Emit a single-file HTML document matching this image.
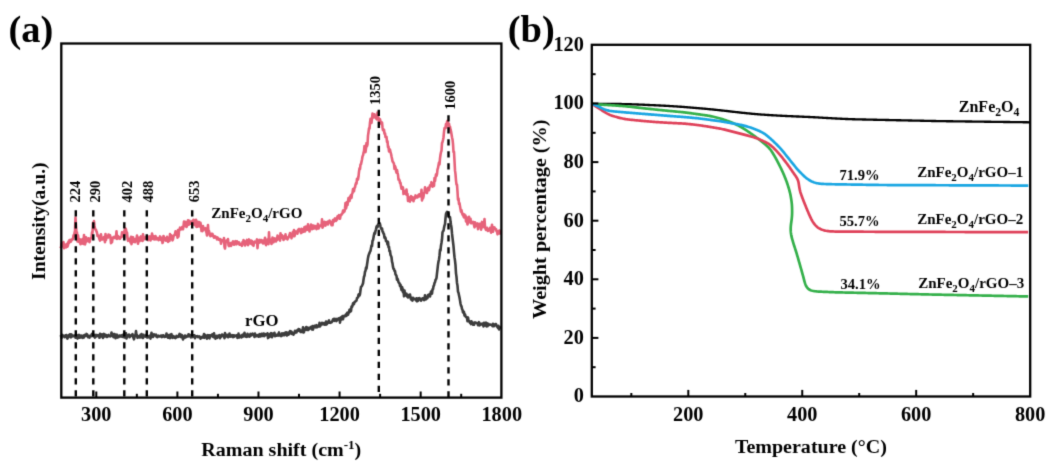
<!DOCTYPE html>
<html><head><meta charset="utf-8"><style>
html,body{margin:0;padding:0;background:#fff;width:1051px;height:468px;overflow:hidden;}
svg{display:block;will-change:transform;}
text{fill:#000;}
</style></head><body>
<svg width="1051" height="468" viewBox="0 0 1051 468">
<defs><filter id="soft" x="0" y="0" width="1051" height="468" filterUnits="userSpaceOnUse" color-interpolation-filters="sRGB"><feConvolveMatrix order="3" kernelMatrix="0.0169 0.0962 0.0169 0.0962 0.5476 0.0962 0.0169 0.0962 0.0169" edgeMode="duplicate"/></filter></defs>
<g filter="url(#soft)">
<rect width="1051" height="468" fill="#fff"/>
<text x="8.5" y="41.5" font-family="'Liberation Serif', serif" font-weight="bold" font-size="38.5">(a)</text>
<text x="507.8" y="41.5" font-family="'Liberation Serif', serif" font-weight="bold" font-size="38.5">(b)</text>
<path d="M60.50 335.01L61.00 335.75L61.50 338.08L62.00 334.81L62.50 336.30L63.00 335.32L63.50 336.15L64.00 336.06L64.50 337.12L65.00 336.61L65.50 335.30L66.00 335.17L66.50 335.02L67.00 337.95L67.50 338.57L68.00 337.12L68.50 337.17L69.00 335.18L69.50 336.35L70.00 334.31L70.50 335.68L71.00 337.36L71.50 334.42L72.00 335.83L72.50 335.43L73.00 336.31L73.50 336.09L74.00 335.84L74.50 335.45L75.00 335.66L75.50 337.77L76.00 334.81L76.50 334.75L77.00 336.15L77.50 338.60L78.00 336.93L78.50 335.68L79.00 334.78L79.50 337.70L80.00 335.42L80.50 337.48L81.00 336.98L81.50 335.60L82.00 337.52L82.50 337.21L83.00 337.78L83.50 335.45L84.00 337.51L84.50 335.59L85.00 334.79L85.50 335.41L86.00 335.89L86.50 333.95L87.00 334.54L87.50 335.03L88.00 337.28L88.50 337.22L89.00 336.77L89.50 337.66L90.00 335.83L90.50 336.40L91.00 336.20L91.50 334.94L92.00 333.92L92.50 335.93L93.00 335.54L93.50 334.38L94.00 336.57L94.50 335.39L95.00 337.59L95.50 335.78L96.00 334.96L96.50 336.32L97.00 335.73L97.50 335.13L98.00 335.27L98.50 336.25L99.00 336.21L99.50 337.79L100.00 333.84L100.50 336.30L101.00 335.42L101.50 336.35L102.00 334.29L102.50 335.73L103.00 337.95L103.50 336.04L104.00 333.91L104.50 335.15L105.00 336.47L105.50 334.77L106.00 334.90L106.50 335.35L107.00 337.00L107.50 335.85L108.00 335.30L108.50 334.96L109.00 336.32L109.50 336.29L110.00 336.08L110.50 336.31L111.00 334.81L111.50 332.59L112.00 335.82L112.50 333.65L113.00 336.04L113.50 337.10L114.00 336.29L114.50 334.08L115.00 335.96L115.50 338.26L116.00 335.14L116.50 335.90L117.00 334.63L117.50 337.58L118.00 336.19L118.50 337.20L119.00 335.76L119.50 336.12L120.00 335.44L120.50 336.43L121.00 335.93L121.50 336.55L122.00 335.13L122.50 334.97L123.00 337.05L123.50 335.79L124.00 334.01L124.50 337.46L125.00 337.07L125.50 336.57L126.00 333.39L126.50 338.46L127.00 336.20L127.50 335.77L128.00 335.73L128.50 334.93L129.00 334.54L129.50 337.22L130.00 336.82L130.50 335.66L131.00 335.78L131.50 335.35L132.00 335.24L132.50 334.10L133.00 336.70L133.50 337.87L134.00 339.30L134.50 337.25L135.00 335.31L135.50 335.44L136.00 331.07L136.50 335.24L137.00 335.14L137.50 337.84L138.00 335.92L138.50 336.70L139.00 336.53L139.50 336.16L140.00 337.50L140.50 334.75L141.00 336.41L141.50 334.09L142.00 337.47L142.50 336.69L143.00 337.95L143.50 334.73L144.00 336.07L144.50 335.89L145.00 336.49L145.50 336.06L146.00 336.72L146.50 334.51L147.00 337.39L147.50 337.53L148.00 336.68L148.50 336.26L149.00 336.04L149.50 337.20L150.00 335.87L150.50 338.60L151.00 335.74L151.50 332.70L152.00 335.78L152.50 336.22L153.00 336.87L153.50 336.19L154.00 334.34L154.50 334.83L155.00 335.10L155.50 335.44L156.00 334.70L156.50 336.82L157.00 336.16L157.50 337.02L158.00 335.78L158.50 335.65L159.00 336.05L159.50 336.53L160.00 336.46L160.50 336.42L161.00 335.45L161.50 335.43L162.00 337.06L162.50 336.37L163.00 335.30L163.50 335.27L164.00 336.55L164.50 337.02L165.00 336.86L165.50 336.60L166.00 336.62L166.50 333.51L167.00 336.65L167.50 335.04L168.00 337.69L168.50 335.86L169.00 335.10L169.50 335.56L170.00 338.18L170.50 334.64L171.00 335.46L171.50 334.20L172.00 336.49L172.50 337.84L173.00 337.25L173.50 336.19L174.00 336.72L174.50 337.72L175.00 337.55L175.50 338.11L176.00 337.60L176.50 335.88L177.00 336.35L177.50 336.74L178.00 336.93L178.50 336.82L179.00 334.97L179.50 333.95L180.00 336.33L180.50 334.52L181.00 337.13L181.50 336.48L182.00 335.21L182.50 336.12L183.00 339.47L183.50 336.66L184.00 338.00L184.50 337.64L185.00 335.59L185.50 337.43L186.00 336.71L186.50 336.82L187.00 336.23L187.50 335.59L188.00 336.39L188.50 334.22L189.00 335.14L189.50 336.26L190.00 334.95L190.50 335.29L191.00 337.35L191.50 336.46L192.00 337.13L192.50 335.71L193.00 335.20L193.50 335.34L194.00 336.74L194.50 335.23L195.00 338.24L195.50 336.48L196.00 336.29L196.50 336.50L197.00 336.29L197.50 336.01L198.00 337.21L198.50 337.06L199.00 336.98L199.50 336.45L200.00 336.89L200.50 338.71L201.00 337.77L201.50 337.36L202.00 337.17L202.50 336.57L203.00 337.60L203.50 336.46L204.00 334.03L204.50 337.83L205.00 336.43L205.50 335.18L206.00 335.37L206.50 336.00L207.00 338.70L207.50 337.06L208.00 335.14L208.50 336.53L209.00 335.27L209.50 338.40L210.00 336.33L210.50 335.34L211.00 336.09L211.50 335.51L212.00 334.53L212.50 334.26L213.00 336.80L213.50 337.05L214.00 333.22L214.50 337.56L215.00 335.82L215.50 338.71L216.00 336.97L216.50 335.94L217.00 337.99L217.50 337.34L218.00 335.80L218.50 336.37L219.00 335.51L219.50 335.09L220.00 338.22L220.50 335.74L221.00 335.40L221.50 336.60L222.00 334.53L222.50 334.70L223.00 335.43L223.50 335.77L224.00 336.22L224.50 338.16L225.00 333.09L225.50 334.57L226.00 336.31L226.50 335.05L227.00 336.36L227.50 334.93L228.00 337.30L228.50 336.46L229.00 336.62L229.50 333.57L230.00 336.43L230.50 336.02L231.00 336.59L231.50 335.76L232.00 335.13L232.50 336.19L233.00 337.20L233.50 335.36L234.00 336.85L234.50 335.60L235.00 335.65L235.50 336.11L236.00 335.69L236.50 335.33L237.00 335.25L237.50 337.90L238.00 337.14L238.50 333.59L239.00 337.59L239.50 336.22L240.00 335.71L240.50 336.83L241.00 335.88L241.50 337.41L242.00 335.14L242.50 334.68L243.00 336.60L243.50 335.52L244.00 335.11L244.50 332.84L245.00 335.22L245.50 336.64L246.00 336.34L246.50 336.23L247.00 336.85L247.50 333.83L248.00 335.98L248.50 334.90L249.00 335.21L249.50 336.76L250.00 335.75L250.50 333.91L251.00 335.57L251.50 335.04L252.00 334.15L252.50 333.55L253.00 334.94L253.50 334.28L254.00 334.68L254.50 336.95L255.00 333.50L255.50 335.68L256.00 335.25L256.50 336.12L257.00 336.06L257.50 335.11L258.00 336.17L258.50 336.72L259.00 334.90L259.50 334.24L260.00 336.39L260.50 336.42L261.00 334.99L261.50 333.72L262.00 335.89L262.50 335.58L263.00 335.91L263.50 333.51L264.00 334.47L264.50 336.07L265.00 333.91L265.50 335.00L266.00 334.29L266.50 334.69L267.00 335.28L267.50 333.25L268.00 338.07L268.50 335.25L269.00 334.80L269.50 337.06L270.00 333.96L270.50 333.81L271.00 333.13L271.50 335.14L272.00 337.18L272.50 335.02L273.00 333.54L273.50 335.33L274.00 334.09L274.50 332.83L275.00 336.20L275.50 334.48L276.00 334.95L276.50 335.70L277.00 335.45L277.50 334.54L278.00 335.54L278.50 333.48L279.00 332.45L279.50 335.54L280.00 335.15L280.50 335.26L281.00 336.05L281.50 334.34L282.00 333.37L282.50 335.49L283.00 334.37L283.50 333.33L284.00 333.95L284.50 335.23L285.00 332.85L285.50 333.90L286.00 332.32L286.50 334.10L287.00 335.50L287.50 332.84L288.00 332.51L288.50 334.71L289.00 333.41L289.50 333.90L290.00 331.14L290.50 333.21L291.00 331.40L291.50 331.77L292.00 333.84L292.50 332.74L293.00 332.88L293.50 334.69L294.00 332.70L294.50 333.34L295.00 330.77L295.50 331.43L296.00 332.47L296.50 332.46L297.00 330.50L297.50 330.16L298.00 330.83L298.50 329.07L299.00 329.59L299.50 329.35L300.00 331.53L300.50 331.31L301.00 332.09L301.50 332.00L302.00 330.28L302.50 330.76L303.00 327.39L303.50 332.55L304.00 332.08L304.50 329.76L305.00 328.61L305.50 329.72L306.00 327.24L306.50 327.09L307.00 329.93L307.50 329.55L308.00 327.77L308.50 329.95L309.00 328.21L309.50 328.79L310.00 328.01L310.50 327.21L311.00 327.71L311.50 326.81L312.00 329.56L312.50 325.97L313.00 329.67L313.50 326.30L314.00 327.65L314.50 325.73L315.00 326.14L315.50 326.48L316.00 327.44L316.50 325.15L317.00 327.02L317.50 327.13L318.00 325.87L318.50 326.11L319.00 326.34L319.50 322.90L320.00 326.37L320.50 325.50L321.00 324.58L321.50 324.29L322.00 322.85L322.50 323.45L323.00 324.31L323.50 323.20L324.00 323.07L324.50 323.38L325.00 324.72L325.50 324.08L326.00 321.55L326.50 324.57L327.00 323.93L327.50 323.09L328.00 322.83L328.50 321.23L329.00 320.43L329.50 322.69L330.00 322.18L330.50 322.79L331.00 322.44L331.50 322.37L332.00 321.86L332.50 320.64L333.00 319.40L333.50 320.49L334.00 318.86L334.50 320.82L335.00 319.65L335.50 319.16L336.00 318.88L336.50 321.09L337.00 319.89L337.50 319.01L338.00 319.60L338.50 318.62L339.00 319.18L339.50 318.06L340.00 322.72L340.50 318.49L341.00 317.41L341.50 318.18L342.00 319.36L342.50 316.02L343.00 319.23L343.50 316.80L344.00 316.01L344.50 315.77L345.00 316.30L345.50 316.28L346.00 314.36L346.50 315.87L347.00 313.32L347.50 312.55L348.00 314.82L348.50 313.16L349.00 312.68L349.50 309.70L350.00 311.65L350.50 309.09L351.00 311.12L351.50 306.65L352.00 307.04L352.50 305.68L353.00 303.44L353.50 304.38L354.00 303.98L354.50 302.00L355.00 301.90L355.50 301.07L356.00 301.08L356.50 300.49L357.00 298.23L357.50 297.73L358.00 297.45L358.50 294.73L359.00 294.05L359.50 295.57L360.00 294.09L360.50 289.97L361.00 286.90L361.50 286.44L362.00 285.88L362.50 284.63L363.00 283.49L363.50 279.71L364.00 276.67L364.50 275.62L365.00 271.75L365.50 270.93L366.00 267.59L366.50 268.71L367.00 264.75L367.50 261.51L368.00 257.92L368.50 255.62L369.00 254.11L369.50 253.09L370.00 251.60L370.50 250.89L371.00 248.11L371.50 245.50L372.00 246.08L372.50 240.86L373.00 240.22L373.50 237.50L374.00 234.76L374.50 232.79L375.00 233.56L375.50 230.84L376.00 229.37L376.50 226.88L377.00 225.97L377.50 227.11L378.00 225.36L378.50 224.16L379.00 224.17L379.50 222.89L380.00 224.06L380.50 226.55L381.00 228.26L381.50 229.08L382.00 228.35L382.50 231.65L383.00 231.95L383.50 233.61L384.00 234.17L384.50 237.85L385.00 237.07L385.50 238.00L386.00 241.14L386.50 241.48L387.00 241.28L387.50 244.54L388.00 241.88L388.50 247.24L389.00 246.85L389.50 251.31L390.00 250.86L390.50 254.96L391.00 255.86L391.50 257.26L392.00 261.59L392.50 263.37L393.00 266.96L393.50 268.81L394.00 268.99L394.50 270.99L395.00 270.97L395.50 274.39L396.00 275.05L396.50 275.85L397.00 279.75L397.50 278.68L398.00 280.17L398.50 282.28L399.00 282.92L399.50 283.30L400.00 285.91L400.50 284.77L401.00 287.78L401.50 290.08L402.00 286.91L402.50 288.52L403.00 292.25L403.50 289.68L404.00 296.29L404.50 290.51L405.00 295.28L405.50 295.41L406.00 295.63L406.50 293.68L407.00 296.51L407.50 295.29L408.00 297.47L408.50 295.10L409.00 295.57L409.50 296.69L410.00 294.49L410.50 297.93L411.00 299.32L411.50 297.74L412.00 299.95L412.50 300.55L413.00 297.80L413.50 298.95L414.00 298.50L414.50 299.01L415.00 299.25L415.50 298.99L416.00 300.33L416.50 298.35L417.00 301.32L417.50 300.43L418.00 300.93L418.50 298.22L419.00 298.31L419.50 298.04L420.00 299.48L420.50 299.58L421.00 300.68L421.50 299.42L422.00 299.15L422.50 298.23L423.00 298.28L423.50 299.24L424.00 300.06L424.50 298.46L425.00 295.32L425.50 297.81L426.00 299.31L426.50 297.47L427.00 297.10L427.50 298.02L428.00 295.09L428.50 296.14L429.00 295.86L429.50 294.21L430.00 296.46L430.50 293.71L431.00 291.62L431.50 292.58L432.00 293.57L432.50 289.37L433.00 289.34L433.50 286.11L434.00 285.60L434.50 283.03L435.00 282.35L435.50 279.96L436.00 279.44L436.50 277.92L437.00 273.33L437.50 269.14L438.00 264.63L438.50 261.55L439.00 259.51L439.50 255.64L440.00 249.88L440.50 250.64L441.00 245.42L441.50 242.67L442.00 239.29L442.50 232.44L443.00 231.14L443.50 230.88L444.00 227.87L444.50 225.46L445.00 224.26L445.50 218.38L446.00 214.01L446.50 212.65L447.00 211.85L447.50 213.10L448.00 212.67L448.50 213.50L449.00 216.49L449.50 217.65L450.00 217.11L450.50 221.55L451.00 224.81L451.50 227.61L452.00 233.40L452.50 237.93L453.00 241.97L453.50 246.20L454.00 252.18L454.50 257.17L455.00 260.59L455.50 265.10L456.00 273.33L456.50 276.90L457.00 282.96L457.50 285.62L458.00 291.69L458.50 292.71L459.00 295.14L459.50 297.50L460.00 300.38L460.50 303.46L461.00 305.71L461.50 306.18L462.00 308.95L462.50 309.86L463.00 312.44L463.50 311.42L464.00 312.07L464.50 315.66L465.00 314.37L465.50 316.24L466.00 317.06L466.50 316.98L467.00 317.89L467.50 321.28L468.00 317.47L468.50 320.46L469.00 321.58L469.50 321.23L470.00 322.71L470.50 322.67L471.00 324.08L471.50 321.35L472.00 322.66L472.50 322.39L473.00 324.67L473.50 324.54L474.00 324.71L474.50 323.06L475.00 322.30L475.50 323.00L476.00 323.04L476.50 322.92L477.00 323.22L477.50 323.37L478.00 325.19L478.50 323.76L479.00 322.14L479.50 325.41L480.00 323.71L480.50 324.68L481.00 323.76L481.50 324.08L482.00 324.36L482.50 323.62L483.00 323.83L483.50 326.38L484.00 322.69L484.50 325.53L485.00 324.09L485.50 323.58L486.00 322.70L486.50 326.36L487.00 323.39L487.50 326.28L488.00 324.76L488.50 323.95L489.00 325.02L489.50 324.80L490.00 324.75L490.50 324.60L491.00 324.87L491.50 325.02L492.00 325.35L492.50 326.17L493.00 323.74L493.50 324.70L494.00 326.24L494.50 324.53L495.00 325.00L495.50 324.16L496.00 324.12L496.50 325.50L497.00 326.59L497.50 325.79L498.00 327.93L498.50 325.83L499.00 329.39L499.50 326.93L500.00 327.62L500.50 326.74" fill="none" stroke="#3C3C3C" stroke-width="2.6" stroke-linejoin="round"/>
<path d="M60.50 248.40L61.00 247.39L61.50 244.12L62.00 244.10L62.50 246.27L63.00 244.75L63.50 242.12L64.00 248.17L64.50 245.37L65.00 244.65L65.50 246.42L66.00 247.28L66.50 246.74L67.00 243.82L67.50 246.64L68.00 245.09L68.50 241.55L69.00 243.08L69.50 240.02L70.00 241.90L70.50 240.07L71.00 241.59L71.50 239.50L72.00 239.84L72.50 238.88L73.00 239.05L73.50 235.41L74.00 236.46L74.50 233.07L75.00 230.72L75.50 217.47L76.00 225.90L76.50 232.80L77.00 232.35L77.50 241.53L78.00 235.27L78.50 238.91L79.00 241.96L79.50 239.33L80.00 240.81L80.50 244.26L81.00 239.66L81.50 240.61L82.00 241.97L82.50 243.36L83.00 238.91L83.50 243.98L84.00 234.97L84.50 239.90L85.00 244.37L85.50 242.41L86.00 237.26L86.50 241.43L87.00 241.00L87.50 240.42L88.00 240.99L88.50 238.39L89.00 241.05L89.50 242.06L90.00 240.32L90.50 238.78L91.00 237.88L91.50 237.39L92.00 232.39L92.50 232.81L93.00 222.80L93.50 223.10L94.00 221.06L94.50 225.97L95.00 228.53L95.50 229.57L96.00 229.92L96.50 231.57L97.00 232.90L97.50 235.97L98.00 235.43L98.50 235.71L99.00 237.56L99.50 239.30L100.00 240.53L100.50 238.78L101.00 234.40L101.50 239.38L102.00 239.53L102.50 237.97L103.00 237.55L103.50 239.12L104.00 237.15L104.50 239.48L105.00 242.26L105.50 233.93L106.00 239.98L106.50 236.39L107.00 237.49L107.50 237.30L108.00 237.48L108.50 234.51L109.00 236.90L109.50 236.95L110.00 235.19L110.50 237.29L111.00 243.09L111.50 237.89L112.00 242.25L112.50 238.53L113.00 238.05L113.50 236.98L114.00 237.97L114.50 236.89L115.00 237.58L115.50 238.08L116.00 236.92L116.50 231.38L117.00 238.86L117.50 238.27L118.00 236.00L118.50 238.31L119.00 237.02L119.50 238.09L120.00 238.78L120.50 237.60L121.00 237.35L121.50 236.41L122.00 232.30L122.50 235.83L123.00 236.01L123.50 233.34L124.00 237.65L124.50 230.19L125.00 230.60L125.50 228.47L126.00 229.30L126.50 233.51L127.00 232.44L127.50 238.34L128.00 240.85L128.50 239.06L129.00 238.92L129.50 239.77L130.00 239.30L130.50 242.47L131.00 236.81L131.50 244.08L132.00 239.90L132.50 240.03L133.00 237.16L133.50 241.82L134.00 240.40L134.50 240.66L135.00 242.19L135.50 238.69L136.00 238.69L136.50 239.32L137.00 235.52L137.50 240.94L138.00 243.77L138.50 237.79L139.00 237.60L139.50 241.29L140.00 238.27L140.50 238.61L141.00 236.40L141.50 240.37L142.00 237.17L142.50 241.06L143.00 234.21L143.50 237.60L144.00 239.33L144.50 237.70L145.00 238.70L145.50 237.35L146.00 238.27L146.50 236.58L147.00 237.71L147.50 236.74L148.00 240.19L148.50 238.25L149.00 236.70L149.50 238.39L150.00 236.45L150.50 240.52L151.00 236.93L151.50 238.92L152.00 233.64L152.50 235.58L153.00 238.95L153.50 239.24L154.00 236.45L154.50 239.35L155.00 237.71L155.50 235.98L156.00 239.38L156.50 238.71L157.00 238.06L157.50 238.12L158.00 239.34L158.50 240.19L159.00 239.59L159.50 238.02L160.00 236.45L160.50 237.01L161.00 240.12L161.50 237.95L162.00 238.29L162.50 243.01L163.00 241.71L163.50 235.93L164.00 237.87L164.50 239.80L165.00 239.33L165.50 238.36L166.00 240.63L166.50 238.87L167.00 236.78L167.50 238.26L168.00 241.84L168.50 239.38L169.00 238.60L169.50 240.98L170.00 234.17L170.50 237.12L171.00 237.02L171.50 235.42L172.00 239.14L172.50 240.38L173.00 239.15L173.50 236.55L174.00 235.28L174.50 235.30L175.00 234.09L175.50 231.37L176.00 232.49L176.50 234.96L177.00 232.97L177.50 237.72L178.00 230.03L178.50 236.69L179.00 231.06L179.50 229.98L180.00 227.65L180.50 228.14L181.00 229.34L181.50 228.33L182.00 227.22L182.50 227.71L183.00 229.23L183.50 226.12L184.00 221.51L184.50 225.94L185.00 223.03L185.50 221.89L186.00 223.48L186.50 227.00L187.00 225.77L187.50 222.78L188.00 220.24L188.50 223.35L189.00 224.55L189.50 220.81L190.00 222.39L190.50 223.29L191.00 223.67L191.50 222.09L192.00 221.48L192.50 220.93L193.00 222.46L193.50 219.75L194.00 224.53L194.50 222.09L195.00 222.75L195.50 225.47L196.00 219.69L196.50 226.85L197.00 225.43L197.50 221.75L198.00 226.57L198.50 225.28L199.00 222.00L199.50 226.44L200.00 226.06L200.50 222.90L201.00 226.15L201.50 231.03L202.00 226.93L202.50 231.15L203.00 226.11L203.50 228.24L204.00 229.27L204.50 228.90L205.00 228.76L205.50 228.16L206.00 231.62L206.50 232.20L207.00 235.53L207.50 229.69L208.00 225.06L208.50 232.76L209.00 230.98L209.50 233.37L210.00 235.46L210.50 236.14L211.00 235.83L211.50 233.70L212.00 235.41L212.50 233.96L213.00 236.13L213.50 235.60L214.00 237.74L214.50 236.22L215.00 237.32L215.50 236.58L216.00 237.84L216.50 237.79L217.00 239.45L217.50 237.43L218.00 239.09L218.50 238.43L219.00 239.67L219.50 239.40L220.00 240.42L220.50 239.11L221.00 243.76L221.50 240.45L222.00 240.44L222.50 240.28L223.00 241.23L223.50 241.35L224.00 238.00L224.50 246.84L225.00 248.53L225.50 243.55L226.00 241.33L226.50 240.58L227.00 241.03L227.50 240.84L228.00 239.08L228.50 245.08L229.00 246.09L229.50 243.63L230.00 243.94L230.50 243.10L231.00 246.02L231.50 245.01L232.00 242.96L232.50 242.39L233.00 241.37L233.50 241.78L234.00 244.67L234.50 244.50L235.00 241.61L235.50 241.21L236.00 241.95L236.50 244.34L237.00 241.32L237.50 243.42L238.00 243.36L238.50 243.14L239.00 242.29L239.50 244.80L240.00 243.63L240.50 244.54L241.00 244.80L241.50 244.17L242.00 245.83L242.50 242.07L243.00 243.68L243.50 240.12L244.00 240.72L244.50 243.69L245.00 245.51L245.50 242.60L246.00 241.33L246.50 241.88L247.00 239.89L247.50 244.21L248.00 245.19L248.50 241.76L249.00 239.42L249.50 240.54L250.00 243.36L250.50 242.59L251.00 240.52L251.50 244.03L252.00 241.12L252.50 244.82L253.00 242.98L253.50 245.82L254.00 242.46L254.50 241.70L255.00 242.40L255.50 242.49L256.00 241.91L256.50 240.76L257.00 239.40L257.50 248.11L258.00 242.57L258.50 241.25L259.00 242.75L259.50 239.93L260.00 240.84L260.50 240.13L261.00 242.20L261.50 240.10L262.00 241.83L262.50 241.72L263.00 243.48L263.50 240.48L264.00 243.21L264.50 241.42L265.00 237.80L265.50 242.50L266.00 245.10L266.50 243.22L267.00 239.71L267.50 239.63L268.00 240.23L268.50 244.21L269.00 232.35L269.50 241.70L270.00 239.30L270.50 240.36L271.00 241.40L271.50 243.97L272.00 240.97L272.50 237.62L273.00 239.91L273.50 242.31L274.00 239.15L274.50 238.45L275.00 238.84L275.50 241.30L276.00 241.40L276.50 238.35L277.00 239.99L277.50 235.56L278.00 237.51L278.50 239.19L279.00 237.13L279.50 237.21L280.00 240.64L280.50 233.25L281.00 237.50L281.50 237.32L282.00 235.24L282.50 238.25L283.00 237.98L283.50 239.99L284.00 237.31L284.50 236.19L285.00 238.58L285.50 234.35L286.00 238.41L286.50 237.65L287.00 237.25L287.50 239.44L288.00 237.84L288.50 237.63L289.00 236.39L289.50 234.98L290.00 233.04L290.50 235.69L291.00 234.64L291.50 238.33L292.00 234.08L292.50 233.48L293.00 231.71L293.50 236.11L294.00 229.99L294.50 236.08L295.00 234.30L295.50 231.51L296.00 232.36L296.50 232.57L297.00 231.26L297.50 233.69L298.00 229.88L298.50 229.49L299.00 229.00L299.50 230.45L300.00 230.38L300.50 231.90L301.00 233.08L301.50 228.70L302.00 231.22L302.50 232.10L303.00 229.63L303.50 231.68L304.00 229.11L304.50 227.08L305.00 231.48L305.50 230.44L306.00 226.65L306.50 228.55L307.00 227.06L307.50 229.64L308.00 224.32L308.50 228.35L309.00 227.43L309.50 231.54L310.00 226.94L310.50 227.65L311.00 224.55L311.50 224.93L312.00 229.27L312.50 227.15L313.00 225.58L313.50 227.15L314.00 228.59L314.50 225.91L315.00 227.27L315.50 226.09L316.00 228.18L316.50 229.06L317.00 226.07L317.50 225.90L318.00 223.93L318.50 228.50L319.00 227.69L319.50 225.72L320.00 226.18L320.50 225.32L321.00 225.53L321.50 225.94L322.00 219.30L322.50 227.61L323.00 226.60L323.50 225.26L324.00 224.49L324.50 221.79L325.00 223.90L325.50 225.60L326.00 222.27L326.50 223.93L327.00 222.04L327.50 221.73L328.00 224.50L328.50 222.33L329.00 222.48L329.50 220.52L330.00 221.98L330.50 221.53L331.00 223.30L331.50 225.09L332.00 222.64L332.50 225.26L333.00 220.13L333.50 220.49L334.00 221.56L334.50 219.17L335.00 218.32L335.50 220.03L336.00 220.87L336.50 220.05L337.00 219.62L337.50 216.26L338.00 216.12L338.50 218.06L339.00 215.17L339.50 217.27L340.00 218.72L340.50 215.99L341.00 214.48L341.50 214.82L342.00 213.69L342.50 213.34L343.00 210.63L343.50 212.49L344.00 210.78L344.50 211.40L345.00 208.47L345.50 202.93L346.00 208.45L346.50 206.11L347.00 202.00L347.50 205.09L348.00 201.40L348.50 197.97L349.00 198.04L349.50 201.07L350.00 196.67L350.50 198.60L351.00 195.04L351.50 197.83L352.00 193.94L352.50 193.07L353.00 189.17L353.50 189.27L354.00 191.25L354.50 187.68L355.00 187.56L355.50 184.83L356.00 182.98L356.50 183.72L357.00 178.82L357.50 179.85L358.00 179.64L358.50 176.56L359.00 171.68L359.50 168.42L360.00 169.00L360.50 164.56L361.00 164.13L361.50 161.89L362.00 159.56L362.50 156.34L363.00 155.47L363.50 152.90L364.00 151.05L364.50 145.94L365.00 147.83L365.50 152.09L366.00 148.42L366.50 142.94L367.00 146.23L367.50 144.47L368.00 135.63L368.50 132.27L369.00 128.38L369.50 128.57L370.00 122.59L370.50 118.86L371.00 118.89L371.50 122.96L372.00 118.57L372.50 113.64L373.00 115.75L373.50 117.37L374.00 117.26L374.50 114.28L375.00 116.50L375.50 115.62L376.00 118.44L376.50 117.54L377.00 119.32L377.50 112.62L378.00 117.18L378.50 117.99L379.00 121.50L379.50 121.36L380.00 119.16L380.50 121.75L381.00 123.28L381.50 124.24L382.00 122.39L382.50 127.46L383.00 130.15L383.50 130.66L384.00 129.74L384.50 133.73L385.00 133.29L385.50 136.95L386.00 137.44L386.50 136.77L387.00 141.78L387.50 141.22L388.00 147.10L388.50 146.51L389.00 151.49L389.50 149.64L390.00 149.66L390.50 152.28L391.00 153.66L391.50 156.33L392.00 158.61L392.50 161.13L393.00 162.16L393.50 162.68L394.00 163.89L394.50 168.81L395.00 166.13L395.50 167.55L396.00 170.84L396.50 172.75L397.00 169.92L397.50 172.77L398.00 174.81L398.50 179.53L399.00 179.34L399.50 180.27L400.00 183.13L400.50 182.74L401.00 186.19L401.50 188.70L402.00 187.72L402.50 187.10L403.00 187.79L403.50 194.06L404.00 191.00L404.50 192.75L405.00 190.97L405.50 192.80L406.00 194.26L406.50 189.60L407.00 194.91L407.50 193.94L408.00 200.95L408.50 198.06L409.00 197.75L409.50 197.43L410.00 201.60L410.50 196.96L411.00 196.08L411.50 199.73L412.00 197.03L412.50 196.95L413.00 197.63L413.50 201.25L414.00 198.50L414.50 198.81L415.00 197.97L415.50 195.41L416.00 197.16L416.50 196.81L417.00 197.51L417.50 197.49L418.00 195.60L418.50 194.91L419.00 196.48L419.50 194.32L420.00 196.15L420.50 195.91L421.00 195.13L421.50 189.82L422.00 200.52L422.50 193.38L423.00 198.32L423.50 196.57L424.00 193.02L424.50 192.96L425.00 187.26L425.50 190.37L426.00 191.40L426.50 191.31L427.00 193.02L427.50 189.97L428.00 187.90L428.50 187.94L429.00 190.28L429.50 187.60L430.00 185.38L430.50 185.68L431.00 184.03L431.50 182.14L432.00 185.62L432.50 186.74L433.00 184.97L433.50 183.01L434.00 185.88L434.50 177.99L435.00 181.17L435.50 177.36L436.00 174.43L436.50 176.03L437.00 174.12L437.50 169.34L438.00 167.99L438.50 165.31L439.00 162.47L439.50 164.45L440.00 158.37L440.50 154.77L441.00 152.13L441.50 150.75L442.00 143.13L442.50 141.97L443.00 140.01L443.50 137.48L444.00 132.17L444.50 128.14L445.00 127.68L445.50 128.16L446.00 123.94L446.50 127.33L447.00 121.81L447.50 120.92L448.00 122.98L448.50 123.39L449.00 123.68L449.50 127.33L450.00 126.77L450.50 129.42L451.00 131.27L451.50 134.24L452.00 137.19L452.50 139.46L453.00 143.91L453.50 151.97L454.00 151.84L454.50 160.84L455.00 170.38L455.50 174.20L456.00 180.57L456.50 184.54L457.00 184.64L457.50 191.62L458.00 199.75L458.50 198.48L459.00 203.97L459.50 203.20L460.00 206.26L460.50 209.13L461.00 211.73L461.50 210.28L462.00 213.02L462.50 214.56L463.00 213.77L463.50 216.33L464.00 217.48L464.50 214.62L465.00 216.19L465.50 215.60L466.00 221.49L466.50 217.21L467.00 221.41L467.50 224.55L468.00 221.67L468.50 220.59L469.00 216.76L469.50 220.75L470.00 222.22L470.50 218.69L471.00 223.24L471.50 221.84L472.00 223.13L472.50 222.13L473.00 221.78L473.50 222.10L474.00 224.90L474.50 227.34L475.00 222.23L475.50 223.53L476.00 224.67L476.50 225.89L477.00 223.97L477.50 223.46L478.00 229.23L478.50 224.55L479.00 224.04L479.50 224.99L480.00 223.82L480.50 225.13L481.00 229.70L481.50 226.94L482.00 221.92L482.50 223.99L483.00 227.21L483.50 226.24L484.00 223.88L484.50 219.01L485.00 226.60L485.50 228.81L486.00 229.91L486.50 229.45L487.00 227.76L487.50 230.18L488.00 230.96L488.50 230.69L489.00 229.20L489.50 229.54L490.00 227.72L490.50 228.38L491.00 232.61L491.50 230.24L492.00 224.69L492.50 229.53L493.00 231.71L493.50 228.93L494.00 227.28L494.50 227.41L495.00 228.97L495.50 228.85L496.00 229.07L496.50 231.15L497.00 231.09L497.50 234.33L498.00 231.12L498.50 230.92L499.00 233.35L499.50 230.46L500.00 233.51L500.50 231.29" fill="none" stroke="#E6627A" stroke-width="2.6" stroke-linejoin="round"/>
<line x1="75.8" y1="210.3" x2="75.8" y2="397" stroke="#000" stroke-width="2.4" stroke-dasharray="6.3 5.7"/>
<line x1="93.3" y1="210.3" x2="93.3" y2="397" stroke="#000" stroke-width="2.4" stroke-dasharray="6.3 5.7"/>
<line x1="124.3" y1="210.3" x2="124.3" y2="397" stroke="#000" stroke-width="2.4" stroke-dasharray="6.3 5.7"/>
<line x1="146.8" y1="210.3" x2="146.8" y2="397" stroke="#000" stroke-width="2.4" stroke-dasharray="6.3 5.7"/>
<line x1="192.2" y1="210.3" x2="192.2" y2="397" stroke="#000" stroke-width="2.4" stroke-dasharray="6.3 5.7"/>
<line x1="378.8" y1="109.8" x2="378.8" y2="397" stroke="#000" stroke-width="2.4" stroke-dasharray="6.3 5.7"/>
<line x1="448.5" y1="115.2" x2="448.5" y2="397" stroke="#000" stroke-width="2.4" stroke-dasharray="6.3 5.7"/>
<text transform="translate(80.32,202.40) rotate(-90)" font-family="'Liberation Serif', serif" font-weight="bold" font-size="14.5">224</text>
<text transform="translate(100.02,202.40) rotate(-90)" font-family="'Liberation Serif', serif" font-weight="bold" font-size="14.5">290</text>
<text transform="translate(131.72,202.40) rotate(-90)" font-family="'Liberation Serif', serif" font-weight="bold" font-size="14.5">402</text>
<text transform="translate(153.12,202.40) rotate(-90)" font-family="'Liberation Serif', serif" font-weight="bold" font-size="14.5">488</text>
<text transform="translate(198.72,202.20) rotate(-90)" font-family="'Liberation Serif', serif" font-weight="bold" font-size="14.5">653</text>
<text transform="translate(380.02,104.90) rotate(-90)" font-family="'Liberation Serif', serif" font-weight="bold" font-size="14.5">1350</text>
<text transform="translate(454.72,109.80) rotate(-90)" font-family="'Liberation Serif', serif" font-weight="bold" font-size="14.5">1600</text>
<text x="211.3" y="217.8" font-family="'Liberation Serif', serif" font-weight="bold" font-size="15">ZnFe<tspan font-size="11" dy="4">2</tspan><tspan dy="-4">O</tspan><tspan font-size="11" dy="4">4</tspan><tspan dy="-4">/rGO</tspan></text>
<text x="245" y="325.7" font-family="'Liberation Serif', serif" font-weight="bold" font-size="15.8" textLength="33.5" lengthAdjust="spacingAndGlyphs">rGO</text>
<rect x="61.3" y="43.5" width="440.1" height="354.1" fill="none" stroke="#000" stroke-width="2.3"/>
<line x1="96.30" y1="397" x2="96.30" y2="391.5" stroke="#000" stroke-width="2"/>
<text x="96.30" y="421.4" text-anchor="middle" font-family="'Liberation Serif', serif" font-weight="bold" font-size="20.3">300</text>
<line x1="177.39" y1="397" x2="177.39" y2="391.5" stroke="#000" stroke-width="2"/>
<text x="177.39" y="421.4" text-anchor="middle" font-family="'Liberation Serif', serif" font-weight="bold" font-size="20.3">600</text>
<line x1="258.48" y1="397" x2="258.48" y2="391.5" stroke="#000" stroke-width="2"/>
<text x="258.48" y="421.4" text-anchor="middle" font-family="'Liberation Serif', serif" font-weight="bold" font-size="20.3">900</text>
<line x1="339.57" y1="397" x2="339.57" y2="391.5" stroke="#000" stroke-width="2"/>
<text x="339.57" y="421.4" text-anchor="middle" font-family="'Liberation Serif', serif" font-weight="bold" font-size="20.3">1200</text>
<line x1="420.66" y1="397" x2="420.66" y2="391.5" stroke="#000" stroke-width="2"/>
<text x="420.66" y="421.4" text-anchor="middle" font-family="'Liberation Serif', serif" font-weight="bold" font-size="20.3">1500</text>
<text x="501.75" y="421.4" text-anchor="middle" font-family="'Liberation Serif', serif" font-weight="bold" font-size="20.3">1800</text>
<line x1="136.84" y1="397" x2="136.84" y2="393.8" stroke="#000" stroke-width="2"/>
<line x1="217.94" y1="397" x2="217.94" y2="393.8" stroke="#000" stroke-width="2"/>
<line x1="299.02" y1="397" x2="299.02" y2="393.8" stroke="#000" stroke-width="2"/>
<line x1="380.12" y1="397" x2="380.12" y2="393.8" stroke="#000" stroke-width="2"/>
<line x1="461.20" y1="397" x2="461.20" y2="393.8" stroke="#000" stroke-width="2"/>
<text x="201.3" y="456.4" font-family="'Liberation Serif', serif" font-weight="bold" font-size="19.3" textLength="160" lengthAdjust="spacingAndGlyphs">Raman shift (cm<tspan font-size="12.6" dy="-7.7">-1</tspan><tspan dy="7.7">)</tspan></text>
<text transform="translate(45.2,221.2) rotate(-90)" text-anchor="middle" font-family="'Liberation Serif', serif" font-weight="bold" font-size="19.2" textLength="117.5" lengthAdjust="spacingAndGlyphs">Intensity(a.u.)</text>
<path d="M592.20 104.00L595.12 104.00L595.72 104.00L596.39 104.00L597.11 104.00L597.88 104.00L598.70 104.00L599.56 104.00L600.45 104.00L601.37 104.00L602.32 104.00L603.28 104.00L604.25 104.00L605.23 104.00L606.22 104.00L607.21 104.00L608.21 104.00L609.20 104.00L610.20 104.00L611.20 104.00L612.20 104.00L613.20 104.00L614.20 104.00L615.20 104.01L616.20 104.01L617.20 104.01L618.20 104.02L619.20 104.02L620.20 104.03L621.20 104.04L622.20 104.05L623.20 104.06L624.20 104.08L625.20 104.10L626.20 104.12L627.20 104.15L628.20 104.17L629.20 104.20L630.20 104.23L631.19 104.27L632.19 104.30L633.19 104.34L634.19 104.38L635.19 104.42L636.19 104.45L637.19 104.49L638.19 104.54L639.19 104.58L640.19 104.62L641.19 104.66L642.19 104.70L643.18 104.75L644.18 104.79L645.18 104.83L646.18 104.88L647.18 104.92L648.18 104.97L649.18 105.01L650.18 105.06L651.18 105.10L652.18 105.15L653.17 105.19L654.17 105.24L655.17 105.28L656.17 105.33L657.17 105.38L658.17 105.43L659.17 105.48L660.17 105.53L661.17 105.58L662.16 105.63L663.16 105.68L664.16 105.73L665.16 105.78L666.16 105.84L667.16 105.89L668.16 105.95L669.15 106.00L670.15 106.06L671.15 106.12L672.15 106.18L673.15 106.24L674.14 106.30L675.14 106.37L676.14 106.43L677.14 106.50L678.14 106.57L679.13 106.64L680.13 106.71L681.13 106.78L682.12 106.85L683.12 106.93L684.12 107.00L685.12 107.08L686.11 107.16L687.11 107.24L688.11 107.31L689.10 107.39L690.10 107.47L691.10 107.55L692.09 107.64L693.09 107.72L694.09 107.80L695.08 107.89L696.08 107.97L697.08 108.06L698.07 108.14L699.07 108.23L700.06 108.32L701.06 108.41L702.06 108.50L703.05 108.58L704.05 108.68L705.04 108.77L706.04 108.86L707.04 108.95L708.03 109.05L709.03 109.14L710.02 109.24L711.02 109.34L712.01 109.44L713.01 109.54L714.00 109.64L715.00 109.74L715.99 109.85L716.99 109.95L717.98 110.06L718.97 110.16L719.97 110.27L720.96 110.38L721.96 110.48L722.95 110.59L723.95 110.70L724.94 110.81L725.93 110.92L726.93 111.03L727.92 111.14L728.91 111.26L729.91 111.37L730.90 111.48L731.89 111.60L732.89 111.71L733.88 111.83L734.87 111.94L735.87 112.05L736.86 112.17L737.86 112.28L738.85 112.39L739.84 112.50L740.84 112.61L741.83 112.72L742.83 112.83L743.82 112.93L744.81 113.03L745.81 113.13L746.80 113.23L747.80 113.33L748.79 113.43L749.79 113.53L750.79 113.62L751.78 113.71L752.78 113.81L753.77 113.90L754.77 113.99L755.76 114.07L756.76 114.16L757.76 114.24L758.75 114.32L759.75 114.40L760.75 114.48L761.74 114.55L762.74 114.63L763.74 114.70L764.74 114.76L765.73 114.83L766.73 114.90L767.73 114.96L768.73 115.02L769.73 115.09L770.72 115.15L771.72 115.21L772.72 115.27L773.72 115.33L774.72 115.38L775.72 115.44L776.71 115.50L777.71 115.55L778.71 115.60L779.71 115.66L780.71 115.71L781.71 115.76L782.71 115.81L783.70 115.86L784.70 115.91L785.70 115.96L786.70 116.01L787.70 116.05L788.70 116.10L789.70 116.15L790.70 116.19L791.69 116.24L792.69 116.28L793.69 116.33L794.69 116.37L795.69 116.41L796.69 116.46L797.69 116.50L798.69 116.54L799.69 116.58L800.69 116.63L801.69 116.67L802.68 116.71L803.68 116.75L804.68 116.80L805.68 116.84L806.68 116.89L807.68 116.93L808.68 116.98L809.68 117.03L810.68 117.08L811.67 117.13L812.67 117.18L813.67 117.23L814.67 117.29L815.67 117.34L816.67 117.40L817.67 117.45L818.66 117.51L819.66 117.57L820.66 117.62L821.66 117.68L822.66 117.74L823.66 117.80L824.65 117.85L825.65 117.91L826.65 117.97L827.65 118.03L828.65 118.08L829.65 118.14L830.64 118.20L831.64 118.25L832.64 118.31L833.64 118.36L834.64 118.41L835.64 118.47L836.64 118.52L837.63 118.57L838.63 118.62L839.63 118.67L840.63 118.72L841.63 118.77L842.63 118.82L843.63 118.87L844.63 118.91L845.62 118.96L846.62 119.00L847.62 119.04L848.62 119.08L849.62 119.12L850.62 119.15L851.62 119.19L852.62 119.22L853.62 119.25L854.62 119.28L855.62 119.31L856.62 119.33L857.62 119.36L858.62 119.38L859.62 119.40L860.62 119.43L861.62 119.45L862.62 119.47L863.62 119.49L864.61 119.52L865.61 119.54L866.61 119.56L867.61 119.58L868.61 119.60L869.61 119.62L870.61 119.65L871.61 119.67L872.61 119.69L873.61 119.71L874.61 119.73L875.61 119.75L876.61 119.77L877.61 119.80L878.61 119.82L879.61 119.84L880.61 119.86L881.61 119.88L882.61 119.90L883.61 119.93L884.61 119.95L885.61 119.97L886.61 119.99L887.61 120.01L888.61 120.03L889.61 120.06L890.61 120.08L891.61 120.10L892.61 120.12L893.61 120.14L894.61 120.16L895.61 120.18L896.61 120.21L897.61 120.23L898.61 120.25L899.61 120.27L900.61 120.29L901.61 120.31L902.61 120.34L903.61 120.36L904.61 120.38L905.61 120.40L906.60 120.42L907.60 120.44L908.60 120.47L909.60 120.49L910.60 120.51L911.60 120.53L912.60 120.55L913.60 120.57L914.60 120.59L915.60 120.62L916.60 120.64L917.60 120.66L918.60 120.68L919.60 120.70L920.60 120.72L921.60 120.75L922.60 120.77L923.60 120.79L924.60 120.81L925.60 120.83L926.60 120.85L927.60 120.87L928.60 120.90L929.60 120.92L930.60 120.94L931.60 120.96L932.60 120.98L933.60 121.00L934.60 121.02L935.60 121.04L936.60 121.05L937.60 121.07L938.60 121.09L939.60 121.11L940.60 121.12L941.60 121.14L942.60 121.15L943.60 121.17L944.60 121.18L945.60 121.20L946.60 121.21L947.60 121.22L948.60 121.24L949.60 121.25L950.60 121.26L951.60 121.28L952.60 121.29L953.60 121.30L954.60 121.32L955.60 121.33L956.60 121.34L957.60 121.36L958.60 121.37L959.60 121.38L960.60 121.39L961.60 121.41L962.60 121.42L963.60 121.43L964.60 121.45L965.60 121.46L966.60 121.47L967.60 121.49L968.60 121.50L969.59 121.51L970.59 121.53L971.59 121.54L972.59 121.55L973.59 121.56L974.59 121.58L975.59 121.59L976.59 121.60L977.59 121.62L978.59 121.63L979.59 121.64L980.59 121.66L981.59 121.67L982.59 121.68L983.59 121.69L984.59 121.71L985.59 121.72L986.59 121.73L987.59 121.75L988.59 121.76L989.59 121.77L990.59 121.79L991.59 121.80L992.59 121.81L993.59 121.83L994.59 121.84L995.59 121.85L996.59 121.86L997.59 121.88L998.59 121.89L999.59 121.90L1000.59 121.92L1001.59 121.93L1002.59 121.94L1003.59 121.96L1004.59 121.97L1005.59 121.98L1006.59 121.99L1007.59 122.01L1008.59 122.02L1009.59 122.03L1010.59 122.05L1011.59 122.06L1012.59 122.07L1013.58 122.09L1014.58 122.10L1015.57 122.11L1016.56 122.12L1017.54 122.14L1018.51 122.15L1019.47 122.16L1020.42 122.17L1021.34 122.19L1022.23 122.20L1023.09 122.21L1023.91 122.22L1024.69 122.23L1025.41 122.24L1026.07 122.25L1026.67 122.26L1030.00 122.30" fill="none" stroke="#000" stroke-width="2.35"/>
<path d="M592.20 104.00L593.96 104.13L594.64 104.18L595.44 104.23L596.32 104.30L597.25 104.36L598.21 104.43L599.19 104.50L600.18 104.56L601.18 104.63L602.18 104.69L603.17 104.75L604.17 104.81L605.17 104.87L606.17 104.92L607.17 104.98L608.17 105.04L609.16 105.10L610.16 105.16L611.16 105.23L612.16 105.29L613.16 105.36L614.15 105.43L615.15 105.50L616.15 105.57L617.15 105.64L618.14 105.71L619.14 105.78L620.14 105.86L621.13 105.93L622.13 106.01L623.13 106.09L624.12 106.17L625.12 106.26L626.12 106.36L627.11 106.46L628.10 106.56L629.10 106.67L630.09 106.78L631.09 106.89L632.08 107.00L633.07 107.12L634.07 107.23L635.06 107.34L636.05 107.45L637.05 107.56L638.04 107.68L639.04 107.79L640.03 107.90L641.02 108.00L642.02 108.11L643.01 108.22L644.01 108.33L645.00 108.43L646.00 108.54L646.99 108.65L647.98 108.75L648.98 108.86L649.97 108.96L650.97 109.07L651.96 109.17L652.96 109.28L653.95 109.38L654.95 109.49L655.94 109.59L656.94 109.69L657.93 109.79L658.92 109.89L659.92 109.99L660.91 110.09L661.91 110.19L662.91 110.29L663.90 110.39L664.90 110.49L665.89 110.59L666.89 110.69L667.88 110.79L668.88 110.88L669.87 110.98L670.87 111.08L671.86 111.17L672.86 111.26L673.85 111.36L674.85 111.45L675.84 111.55L676.84 111.64L677.84 111.73L678.83 111.83L679.83 111.92L680.82 112.02L681.82 112.11L682.81 112.21L683.81 112.32L684.80 112.43L685.79 112.55L686.78 112.67L687.78 112.80L688.77 112.93L689.76 113.07L690.75 113.21L691.74 113.34L692.73 113.48L693.72 113.62L694.71 113.76L695.70 113.90L696.69 114.04L697.68 114.18L698.67 114.31L699.66 114.45L700.65 114.59L701.64 114.73L702.63 114.87L703.62 115.01L704.61 115.15L705.60 115.29L706.59 115.44L707.58 115.59L708.56 115.75L709.55 115.92L710.53 116.11L711.51 116.31L712.48 116.53L713.45 116.75L714.42 116.99L715.39 117.24L716.36 117.49L717.33 117.74L718.29 118.00L719.26 118.27L720.22 118.54L721.18 118.82L722.13 119.11L723.09 119.41L724.04 119.72L724.99 120.03L725.94 120.35L726.88 120.67L727.83 121.00L728.77 121.33L729.71 121.67L730.64 122.03L731.57 122.40L732.48 122.79L733.40 123.19L734.30 123.61L735.20 124.04L736.10 124.48L736.99 124.93L737.89 125.38L738.78 125.84L739.66 126.30L740.54 126.77L741.42 127.25L742.28 127.75L743.14 128.26L743.99 128.78L744.83 129.32L745.66 129.87L746.49 130.43L747.31 131.00L748.14 131.56L748.96 132.13L749.78 132.70L750.60 133.27L751.42 133.85L752.24 134.43L753.05 135.01L753.86 135.59L754.67 136.18L755.47 136.78L756.27 137.37L757.07 137.97L757.87 138.57L758.67 139.18L759.46 139.79L760.26 140.40L761.04 141.01L761.83 141.63L762.60 142.26L763.38 142.90L764.15 143.53L764.91 144.18L765.67 144.83L766.42 145.48L767.16 146.15L767.89 146.83L768.59 147.53L769.26 148.25L769.91 149.00L770.52 149.77L771.10 150.57L771.66 151.39L772.19 152.23L772.72 153.08L773.24 153.93L773.75 154.79L774.26 155.65L774.77 156.51L775.27 157.37L775.77 158.24L776.25 159.12L776.73 159.99L777.20 160.88L777.66 161.76L778.11 162.65L778.57 163.54L779.02 164.44L779.46 165.33L779.91 166.23L780.36 167.12L780.80 168.02L781.24 168.92L781.68 169.82L782.10 170.72L782.52 171.63L782.93 172.54L783.33 173.45L783.72 174.37L784.11 175.29L784.49 176.22L784.86 177.15L785.23 178.07L785.60 179.00L785.96 179.94L786.32 180.87L786.67 181.81L787.00 182.75L787.32 183.69L787.64 184.64L787.94 185.59L788.24 186.55L788.53 187.50L788.81 188.46L789.09 189.42L789.37 190.38L789.63 191.35L789.88 192.31L790.11 193.28L790.33 194.26L790.53 195.24L790.71 196.22L790.88 197.20L791.05 198.19L791.21 199.17L791.35 200.16L791.50 201.15L791.62 202.14L791.74 203.13L791.84 204.12L791.91 205.12L791.98 206.12L792.02 207.11L792.06 208.11L792.08 209.11L792.10 210.11L792.11 211.11L792.11 212.11L792.10 213.11L792.07 214.10L792.02 215.10L791.96 216.10L791.88 217.09L791.79 218.08L791.68 219.08L791.56 220.07L791.43 221.06L791.30 222.05L791.16 223.04L791.03 224.03L790.92 225.02L790.82 226.01L790.75 227.00L790.71 227.99L790.69 228.99L790.71 229.98L790.75 230.98L790.82 231.97L790.92 232.96L791.06 233.94L791.22 234.92L791.41 235.90L791.63 236.87L791.86 237.84L792.11 238.81L792.37 239.77L792.64 240.73L792.92 241.69L793.21 242.65L793.50 243.61L793.80 244.56L794.10 245.51L794.41 246.46L794.72 247.41L795.03 248.36L795.34 249.32L795.65 250.27L795.95 251.22L796.25 252.17L796.54 253.13L796.83 254.09L797.11 255.05L797.39 256.01L797.67 256.97L797.95 257.93L798.22 258.89L798.50 259.85L798.77 260.81L799.05 261.77L799.32 262.73L799.60 263.70L799.87 264.66L800.14 265.62L800.42 266.58L800.69 267.54L800.96 268.51L801.24 269.47L801.51 270.43L801.78 271.39L802.05 272.36L802.32 273.32L802.59 274.28L802.85 275.25L803.11 276.21L803.37 277.18L803.63 278.14L803.88 279.11L804.13 280.08L804.38 281.04L804.65 282.00L804.93 282.95L805.23 283.89L805.57 284.80L805.96 285.69L806.42 286.53L806.94 287.32L807.53 288.04L808.20 288.70L808.93 289.27L809.72 289.76L810.56 290.16L811.45 290.49L812.38 290.75L813.33 290.96L814.30 291.13L815.29 291.27L816.27 291.38L817.27 291.47L818.26 291.55L819.26 291.61L820.26 291.67L821.25 291.72L822.25 291.76L823.25 291.80L824.25 291.85L825.25 291.89L826.25 291.93L827.25 291.97L828.25 292.02L829.25 292.06L830.25 292.10L831.25 292.14L832.24 292.18L833.24 292.22L834.24 292.25L835.24 292.28L836.24 292.31L837.24 292.34L838.24 292.37L839.24 292.39L840.24 292.42L841.24 292.44L842.24 292.46L843.24 292.48L844.24 292.51L845.24 292.53L846.24 292.55L847.24 292.57L848.24 292.59L849.24 292.62L850.24 292.64L851.24 292.66L852.24 292.68L853.24 292.71L854.24 292.73L855.24 292.75L856.24 292.77L857.24 292.79L858.24 292.82L859.24 292.84L860.24 292.86L861.24 292.88L862.24 292.91L863.23 292.93L864.23 292.95L865.23 292.97L866.23 292.99L867.23 293.02L868.23 293.04L869.23 293.06L870.23 293.08L871.23 293.11L872.23 293.13L873.23 293.15L874.23 293.17L875.23 293.19L876.23 293.22L877.23 293.24L878.23 293.26L879.23 293.28L880.23 293.31L881.23 293.33L882.23 293.35L883.23 293.38L884.23 293.40L885.23 293.43L886.23 293.45L887.23 293.47L888.23 293.50L889.23 293.52L890.23 293.55L891.23 293.57L892.23 293.59L893.23 293.62L894.23 293.64L895.23 293.67L896.23 293.69L897.23 293.71L898.23 293.74L899.23 293.76L900.22 293.79L901.22 293.81L902.22 293.83L903.22 293.86L904.22 293.88L905.22 293.91L906.22 293.93L907.22 293.95L908.22 293.98L909.22 294.00L910.22 294.03L911.22 294.05L912.22 294.07L913.22 294.10L914.22 294.12L915.22 294.15L916.22 294.17L917.22 294.19L918.22 294.22L919.22 294.24L920.22 294.27L921.22 294.29L922.22 294.31L923.22 294.34L924.22 294.36L925.22 294.38L926.22 294.41L927.22 294.43L928.22 294.46L929.22 294.48L930.22 294.50L931.22 294.52L932.22 294.54L933.22 294.56L934.22 294.58L935.22 294.60L936.22 294.62L937.21 294.64L938.21 294.66L939.21 294.68L940.21 294.70L941.21 294.72L942.21 294.74L943.21 294.76L944.21 294.78L945.21 294.80L946.21 294.82L947.21 294.84L948.21 294.86L949.21 294.88L950.21 294.90L951.21 294.92L952.21 294.94L953.21 294.96L954.21 294.98L955.21 295.00L956.21 295.02L957.21 295.04L958.21 295.06L959.21 295.08L960.21 295.10L961.21 295.12L962.21 295.14L963.21 295.16L964.21 295.18L965.21 295.20L966.21 295.22L967.21 295.24L968.21 295.26L969.21 295.28L970.21 295.30L971.21 295.32L972.21 295.34L973.21 295.36L974.21 295.38L975.21 295.40L976.21 295.42L977.21 295.44L978.21 295.46L979.21 295.48L980.21 295.50L981.21 295.52L982.21 295.54L983.21 295.56L984.21 295.58L985.21 295.60L986.21 295.62L987.20 295.64L988.20 295.66L989.20 295.68L990.20 295.70L991.20 295.72L992.20 295.74L993.20 295.76L994.20 295.78L995.20 295.80L996.20 295.82L997.20 295.84L998.20 295.86L999.20 295.88L1000.20 295.90L1001.20 295.92L1002.20 295.94L1003.20 295.96L1004.20 295.98L1005.20 296.00L1006.20 296.02L1007.20 296.04L1008.20 296.06L1009.20 296.08L1010.20 296.10L1011.20 296.12L1012.20 296.14L1013.20 296.16L1014.20 296.18L1015.20 296.20L1016.20 296.22L1017.20 296.24L1018.20 296.26L1019.20 296.28L1020.20 296.30L1021.20 296.32L1022.19 296.34L1023.18 296.36L1024.16 296.38L1025.11 296.40L1026.02 296.42L1026.86 296.44L1027.61 296.45L1028.24 296.46" fill="none" stroke="#34B04A" stroke-width="2.7"/>
<path d="M592.20 104.00L593.63 105.01L594.20 105.39L594.87 105.82L595.61 106.29L596.40 106.77L597.23 107.28L598.06 107.80L598.90 108.33L599.73 108.88L600.56 109.43L601.39 109.99L602.21 110.55L603.04 111.11L603.87 111.65L604.72 112.18L605.57 112.69L606.44 113.18L607.32 113.65L608.21 114.09L609.12 114.51L610.03 114.90L610.96 115.27L611.89 115.61L612.84 115.93L613.79 116.24L614.74 116.53L615.70 116.80L616.66 117.07L617.63 117.33L618.60 117.58L619.57 117.83L620.54 118.07L621.51 118.30L622.48 118.52L623.46 118.73L624.44 118.92L625.42 119.09L626.40 119.25L627.39 119.39L628.38 119.51L629.38 119.62L630.37 119.73L631.36 119.83L632.36 119.93L633.35 120.03L634.35 120.13L635.34 120.23L636.34 120.33L637.33 120.43L638.33 120.53L639.32 120.62L640.32 120.71L641.32 120.81L642.31 120.90L643.31 120.98L644.30 121.07L645.30 121.16L646.30 121.25L647.29 121.33L648.29 121.42L649.29 121.50L650.28 121.59L651.28 121.67L652.27 121.76L653.27 121.84L654.27 121.91L655.27 121.99L656.26 122.06L657.26 122.13L658.26 122.19L659.26 122.25L660.25 122.31L661.25 122.37L662.25 122.43L663.25 122.49L664.25 122.55L665.25 122.61L666.24 122.67L667.24 122.73L668.24 122.79L669.24 122.84L670.24 122.90L671.24 122.95L672.23 123.00L673.23 123.05L674.23 123.10L675.23 123.14L676.23 123.19L677.23 123.24L678.23 123.28L679.23 123.33L680.23 123.38L681.22 123.43L682.22 123.49L683.22 123.55L684.22 123.62L685.21 123.70L686.21 123.78L687.20 123.88L688.20 123.98L689.19 124.08L690.19 124.19L691.18 124.30L692.17 124.41L693.17 124.53L694.16 124.64L695.16 124.75L696.15 124.87L697.14 124.99L698.13 125.11L699.12 125.24L700.12 125.38L701.10 125.52L702.09 125.66L703.08 125.82L704.07 125.97L705.06 126.13L706.04 126.29L707.03 126.45L708.02 126.61L709.00 126.77L709.99 126.93L710.98 127.10L711.97 127.26L712.95 127.42L713.94 127.58L714.93 127.74L715.91 127.91L716.90 128.07L717.88 128.24L718.87 128.41L719.85 128.60L720.83 128.79L721.81 128.99L722.79 129.21L723.76 129.43L724.73 129.66L725.70 129.90L726.67 130.14L727.64 130.38L728.61 130.63L729.58 130.87L730.55 131.12L731.52 131.37L732.49 131.61L733.46 131.86L734.43 132.10L735.40 132.35L736.37 132.59L737.34 132.84L738.30 133.09L739.27 133.34L740.24 133.59L741.21 133.84L742.18 134.09L743.14 134.35L744.11 134.61L745.07 134.87L746.04 135.14L747.00 135.41L747.96 135.67L748.93 135.94L749.89 136.21L750.85 136.48L751.81 136.76L752.78 137.03L753.73 137.31L754.69 137.60L755.64 137.90L756.59 138.22L757.52 138.56L758.45 138.92L759.37 139.30L760.29 139.69L761.20 140.10L762.10 140.53L763.01 140.95L763.91 141.38L764.81 141.82L765.70 142.26L766.59 142.72L767.46 143.19L768.32 143.68L769.15 144.21L769.97 144.77L770.75 145.37L771.51 146.00L772.25 146.66L772.98 147.34L773.69 148.03L774.40 148.74L775.09 149.45L775.78 150.18L776.46 150.91L777.14 151.65L777.80 152.39L778.46 153.14L779.12 153.90L779.77 154.66L780.41 155.42L781.06 156.19L781.69 156.96L782.33 157.73L782.95 158.51L783.57 159.29L784.19 160.08L784.80 160.87L785.40 161.67L786.01 162.47L786.61 163.27L787.20 164.07L787.80 164.87L788.39 165.68L788.97 166.49L789.55 167.31L790.12 168.12L790.69 168.95L791.26 169.77L791.83 170.59L792.39 171.42L792.96 172.24L793.54 173.06L794.11 173.87L794.69 174.69L795.26 175.50L795.82 176.32L796.36 177.15L796.86 177.99L797.32 178.85L797.71 179.73L798.05 180.64L798.32 181.57L798.54 182.52L798.73 183.49L798.89 184.47L799.04 185.45L799.19 186.44L799.35 187.42L799.53 188.40L799.72 189.38L799.94 190.35L800.18 191.32L800.45 192.27L800.74 193.23L801.05 194.17L801.38 195.11L801.72 196.05L802.07 196.99L802.42 197.93L802.77 198.86L803.13 199.80L803.49 200.73L803.86 201.66L804.23 202.59L804.60 203.52L804.97 204.45L805.34 205.37L805.72 206.30L806.09 207.23L806.47 208.15L806.85 209.08L807.23 210.00L807.62 210.92L808.01 211.84L808.40 212.76L808.80 213.68L809.20 214.60L809.60 215.51L810.02 216.42L810.44 217.33L810.87 218.23L811.32 219.12L811.79 219.99L812.28 220.86L812.79 221.71L813.33 222.54L813.89 223.36L814.48 224.15L815.10 224.92L815.76 225.64L816.45 226.32L817.19 226.96L817.97 227.55L818.79 228.09L819.64 228.57L820.51 229.02L821.42 229.41L822.34 229.77L823.27 230.08L824.23 230.36L825.19 230.59L826.16 230.79L827.14 230.96L828.12 231.09L829.11 231.20L830.10 231.28L831.10 231.35L832.10 231.41L833.09 231.46L834.09 231.50L835.09 231.54L836.09 231.57L837.09 231.59L838.09 231.60L839.09 231.61L840.09 231.62L841.09 231.63L842.09 231.63L843.09 231.64L844.09 231.64L845.09 231.64L846.09 231.65L847.09 231.65L848.09 231.66L849.09 231.66L850.09 231.67L851.09 231.67L852.09 231.68L853.09 231.68L854.09 231.68L855.09 231.69L856.09 231.69L857.09 231.70L858.09 231.70L859.09 231.71L860.09 231.71L861.09 231.72L862.09 231.72L863.09 231.72L864.09 231.73L865.09 231.73L866.09 231.74L867.09 231.74L868.09 231.75L869.09 231.75L870.09 231.76L871.09 231.76L872.09 231.76L873.09 231.77L874.09 231.77L875.09 231.78L876.09 231.78L877.09 231.79L878.09 231.79L879.09 231.79L880.09 231.80L881.09 231.80L882.09 231.80L883.09 231.81L884.09 231.81L885.09 231.81L886.09 231.82L887.09 231.82L888.09 231.82L889.09 231.82L890.09 231.83L891.09 231.83L892.09 231.83L893.09 231.83L894.09 231.84L895.09 231.84L896.09 231.84L897.09 231.85L898.09 231.85L899.09 231.85L900.09 231.85L901.09 231.86L902.09 231.86L903.09 231.86L904.09 231.86L905.09 231.87L906.09 231.87L907.09 231.87L908.09 231.87L909.09 231.88L910.09 231.88L911.09 231.88L912.09 231.89L913.09 231.89L914.09 231.89L915.09 231.89L916.09 231.90L917.09 231.90L918.09 231.90L919.09 231.90L920.09 231.91L921.09 231.91L922.09 231.91L923.09 231.91L924.09 231.92L925.09 231.92L926.09 231.92L927.09 231.93L928.09 231.93L929.09 231.93L930.09 231.93L931.09 231.94L932.09 231.94L933.09 231.94L934.09 231.94L935.09 231.95L936.09 231.95L937.09 231.95L938.09 231.95L939.09 231.96L940.09 231.96L941.09 231.96L942.09 231.97L943.09 231.97L944.09 231.97L945.09 231.97L946.09 231.98L947.09 231.98L948.09 231.98L949.09 231.98L950.09 231.99L951.09 231.99L952.09 231.99L953.09 231.99L954.09 232.00L955.09 232.00L956.09 232.00L957.09 232.01L958.09 232.01L959.09 232.01L960.09 232.01L961.09 232.02L962.09 232.02L963.09 232.02L964.09 232.02L965.09 232.03L966.09 232.03L967.09 232.03L968.09 232.03L969.09 232.04L970.09 232.04L971.09 232.04L972.09 232.05L973.09 232.05L974.09 232.05L975.09 232.05L976.09 232.06L977.09 232.06L978.09 232.06L979.09 232.06L980.09 232.07L981.09 232.07L982.09 232.07L983.09 232.07L984.09 232.08L985.09 232.08L986.09 232.08L987.09 232.09L988.09 232.09L989.09 232.09L990.09 232.09L991.09 232.10L992.09 232.10L993.09 232.10L994.09 232.10L995.09 232.11L996.09 232.11L997.09 232.11L998.09 232.11L999.09 232.12L1000.09 232.12L1001.09 232.12L1002.09 232.13L1003.09 232.13L1004.09 232.13L1005.09 232.13L1006.09 232.14L1007.09 232.14L1008.09 232.14L1009.09 232.14L1010.09 232.15L1011.09 232.15L1012.09 232.15L1013.09 232.15L1014.09 232.16L1015.09 232.16L1016.09 232.16L1017.09 232.17L1018.09 232.17L1019.09 232.17L1020.09 232.17L1021.09 232.18L1022.08 232.18L1023.07 232.18L1024.05 232.18L1025.00 232.19L1025.91 232.19L1026.75 232.19L1027.50 232.19L1028.13 232.20" fill="none" stroke="#DF4159" stroke-width="2.7"/>
<path d="M592.20 104.00L593.86 104.57L594.50 104.81L595.24 105.11L596.05 105.44L596.90 105.82L597.77 106.22L598.65 106.65L599.54 107.09L600.43 107.53L601.33 107.97L602.23 108.39L603.14 108.79L604.06 109.17L604.99 109.53L605.93 109.85L606.88 110.14L607.84 110.39L608.81 110.62L609.78 110.82L610.76 110.99L611.75 111.14L612.74 111.27L613.73 111.38L614.72 111.48L615.72 111.58L616.71 111.67L617.71 111.76L618.70 111.85L619.70 111.93L620.70 112.02L621.69 112.11L622.69 112.19L623.69 112.28L624.68 112.36L625.68 112.45L626.68 112.53L627.67 112.61L628.67 112.69L629.67 112.77L630.66 112.85L631.66 112.93L632.66 113.01L633.65 113.09L634.65 113.17L635.65 113.25L636.64 113.33L637.64 113.41L638.64 113.49L639.63 113.57L640.63 113.65L641.63 113.73L642.62 113.81L643.62 113.89L644.62 113.97L645.61 114.05L646.61 114.13L647.61 114.21L648.61 114.29L649.60 114.37L650.60 114.45L651.60 114.53L652.59 114.61L653.59 114.69L654.59 114.77L655.58 114.85L656.58 114.93L657.58 115.01L658.57 115.09L659.57 115.17L660.57 115.25L661.56 115.33L662.56 115.40L663.56 115.48L664.55 115.56L665.55 115.64L666.55 115.72L667.54 115.80L668.54 115.88L669.54 115.96L670.54 116.03L671.53 116.11L672.53 116.18L673.53 116.26L674.52 116.33L675.52 116.40L676.52 116.48L677.52 116.55L678.51 116.62L679.51 116.70L680.51 116.77L681.51 116.85L682.50 116.92L683.50 117.00L684.50 117.08L685.49 117.17L686.49 117.25L687.49 117.34L688.48 117.43L689.48 117.52L690.47 117.61L691.47 117.70L692.46 117.80L693.46 117.89L694.46 117.98L695.45 118.08L696.45 118.18L697.44 118.27L698.44 118.38L699.43 118.49L700.42 118.60L701.42 118.72L702.41 118.84L703.40 118.97L704.39 119.10L705.38 119.23L706.37 119.36L707.36 119.50L708.35 119.63L709.35 119.77L710.34 119.90L711.33 120.04L712.32 120.17L713.31 120.30L714.30 120.44L715.29 120.57L716.28 120.71L717.27 120.85L718.26 120.98L719.25 121.13L720.24 121.27L721.23 121.42L722.22 121.58L723.20 121.74L724.19 121.91L725.18 122.08L726.16 122.25L727.14 122.43L728.13 122.60L729.11 122.78L730.10 122.95L731.08 123.13L732.07 123.30L733.05 123.48L734.04 123.65L735.02 123.83L736.00 124.01L736.99 124.18L737.97 124.36L738.95 124.55L739.94 124.74L740.91 124.94L741.89 125.15L742.86 125.38L743.83 125.62L744.80 125.88L745.76 126.14L746.72 126.42L747.68 126.70L748.64 126.99L749.59 127.28L750.54 127.58L751.49 127.89L752.44 128.21L753.38 128.55L754.31 128.90L755.24 129.27L756.16 129.65L757.08 130.04L758.00 130.43L758.92 130.84L759.82 131.25L760.73 131.67L761.62 132.11L762.50 132.57L763.36 133.06L764.20 133.58L765.02 134.14L765.82 134.72L766.60 135.33L767.37 135.96L768.14 136.60L768.90 137.25L769.65 137.91L770.40 138.57L771.14 139.24L771.88 139.91L772.62 140.59L773.34 141.28L774.06 141.97L774.78 142.66L775.50 143.36L776.21 144.07L776.92 144.77L777.62 145.48L778.33 146.19L779.02 146.91L779.71 147.63L780.38 148.36L781.05 149.11L781.70 149.86L782.34 150.63L782.98 151.40L783.61 152.18L784.24 152.96L784.86 153.74L785.48 154.52L786.10 155.30L786.73 156.09L787.35 156.87L787.97 157.65L788.60 158.43L789.22 159.21L789.84 159.99L790.47 160.78L791.09 161.56L791.72 162.34L792.35 163.11L792.97 163.89L793.60 164.67L794.23 165.45L794.86 166.23L795.49 167.00L796.13 167.77L796.77 168.53L797.43 169.29L798.09 170.03L798.77 170.77L799.45 171.50L800.15 172.21L800.85 172.93L801.55 173.64L802.26 174.34L802.97 175.04L803.69 175.74L804.42 176.42L805.16 177.08L805.91 177.72L806.69 178.34L807.49 178.93L808.31 179.50L809.14 180.03L809.99 180.54L810.86 181.02L811.74 181.46L812.64 181.86L813.56 182.22L814.50 182.54L815.44 182.82L816.41 183.06L817.38 183.27L818.35 183.45L819.34 183.59L820.32 183.71L821.32 183.80L822.31 183.88L823.31 183.93L824.30 183.98L825.30 184.02L826.30 184.06L827.30 184.09L828.30 184.13L829.30 184.16L830.30 184.18L831.30 184.21L832.30 184.23L833.30 184.25L834.30 184.27L835.30 184.28L836.30 184.30L837.30 184.32L838.30 184.33L839.30 184.35L840.30 184.36L841.30 184.38L842.30 184.40L843.30 184.41L844.30 184.43L845.30 184.44L846.30 184.46L847.30 184.48L848.30 184.49L849.30 184.51L850.30 184.52L851.30 184.54L852.30 184.56L853.30 184.57L854.30 184.59L855.30 184.60L856.30 184.62L857.30 184.64L858.30 184.65L859.30 184.67L860.29 184.68L861.29 184.70L862.29 184.72L863.29 184.73L864.29 184.75L865.29 184.76L866.29 184.78L867.29 184.80L868.29 184.81L869.29 184.83L870.29 184.84L871.29 184.86L872.29 184.88L873.29 184.89L874.29 184.91L875.29 184.92L876.29 184.94L877.29 184.95L878.29 184.97L879.29 184.98L880.29 184.99L881.29 185.00L882.29 185.00L883.29 185.01L884.29 185.02L885.29 185.02L886.29 185.02L887.29 185.03L888.29 185.03L889.29 185.04L890.29 185.04L891.29 185.05L892.29 185.05L893.29 185.05L894.29 185.06L895.29 185.06L896.29 185.07L897.29 185.07L898.29 185.07L899.29 185.08L900.29 185.08L901.29 185.09L902.29 185.09L903.29 185.09L904.29 185.10L905.29 185.10L906.29 185.11L907.29 185.11L908.29 185.11L909.29 185.12L910.29 185.12L911.29 185.13L912.29 185.13L913.29 185.13L914.29 185.14L915.29 185.14L916.29 185.15L917.29 185.15L918.29 185.15L919.29 185.16L920.29 185.16L921.29 185.17L922.29 185.17L923.29 185.17L924.29 185.18L925.29 185.18L926.29 185.19L927.29 185.19L928.29 185.19L929.29 185.20L930.29 185.20L931.29 185.21L932.29 185.21L933.29 185.21L934.29 185.22L935.29 185.22L936.29 185.23L937.29 185.23L938.29 185.23L939.29 185.24L940.29 185.24L941.29 185.25L942.29 185.25L943.29 185.25L944.29 185.26L945.29 185.26L946.29 185.27L947.29 185.27L948.29 185.27L949.29 185.28L950.29 185.28L951.29 185.29L952.29 185.29L953.29 185.29L954.29 185.30L955.29 185.30L956.29 185.31L957.29 185.31L958.29 185.31L959.29 185.32L960.29 185.32L961.29 185.33L962.29 185.33L963.29 185.33L964.29 185.34L965.29 185.34L966.29 185.35L967.29 185.35L968.29 185.35L969.29 185.36L970.29 185.36L971.29 185.37L972.29 185.37L973.29 185.37L974.29 185.38L975.29 185.38L976.29 185.39L977.29 185.39L978.29 185.39L979.29 185.40L980.29 185.40L981.29 185.41L982.29 185.41L983.29 185.41L984.29 185.42L985.29 185.42L986.29 185.43L987.29 185.43L988.29 185.43L989.29 185.44L990.29 185.44L991.29 185.45L992.29 185.45L993.29 185.45L994.29 185.46L995.29 185.46L996.29 185.47L997.29 185.47L998.29 185.47L999.29 185.48L1000.29 185.48L1001.29 185.49L1002.29 185.49L1003.29 185.49L1004.29 185.50L1005.29 185.50L1006.29 185.51L1007.29 185.51L1008.29 185.51L1009.29 185.52L1010.29 185.52L1011.29 185.53L1012.29 185.53L1013.29 185.53L1014.29 185.54L1015.29 185.54L1016.29 185.55L1017.29 185.55L1018.29 185.55L1019.29 185.56L1020.29 185.56L1021.29 185.57L1022.29 185.57L1023.28 185.57L1024.25 185.58L1025.20 185.58L1026.11 185.58L1026.95 185.59L1027.70 185.59L1028.33 185.59" fill="none" stroke="#1AA6E2" stroke-width="2.7"/>
<rect x="591.8" y="44.8" width="438.4" height="351.7" fill="none" stroke="#000" stroke-width="2.3"/>
<text x="583.8" y="402.40" text-anchor="end" font-family="'Liberation Serif', serif" font-weight="bold" font-size="20.3">0</text>
<line x1="591.8" y1="337.90" x2="598.4" y2="337.90" stroke="#000" stroke-width="2"/>
<text x="583.8" y="343.80" text-anchor="end" font-family="'Liberation Serif', serif" font-weight="bold" font-size="20.3">20</text>
<line x1="591.8" y1="279.30" x2="598.4" y2="279.30" stroke="#000" stroke-width="2"/>
<text x="583.8" y="285.20" text-anchor="end" font-family="'Liberation Serif', serif" font-weight="bold" font-size="20.3">40</text>
<line x1="591.8" y1="220.70" x2="598.4" y2="220.70" stroke="#000" stroke-width="2"/>
<text x="583.8" y="226.60" text-anchor="end" font-family="'Liberation Serif', serif" font-weight="bold" font-size="20.3">60</text>
<line x1="591.8" y1="162.10" x2="598.4" y2="162.10" stroke="#000" stroke-width="2"/>
<text x="583.8" y="168.00" text-anchor="end" font-family="'Liberation Serif', serif" font-weight="bold" font-size="20.3">80</text>
<line x1="591.8" y1="103.50" x2="598.4" y2="103.50" stroke="#000" stroke-width="2"/>
<text x="583.8" y="109.40" text-anchor="end" font-family="'Liberation Serif', serif" font-weight="bold" font-size="20.3">100</text>
<text x="583.8" y="50.80" text-anchor="end" font-family="'Liberation Serif', serif" font-weight="bold" font-size="20.3">120</text>
<line x1="591.8" y1="367.20" x2="595.6" y2="367.20" stroke="#000" stroke-width="2"/>
<line x1="591.8" y1="308.60" x2="595.6" y2="308.60" stroke="#000" stroke-width="2"/>
<line x1="591.8" y1="250.00" x2="595.6" y2="250.00" stroke="#000" stroke-width="2"/>
<line x1="591.8" y1="191.40" x2="595.6" y2="191.40" stroke="#000" stroke-width="2"/>
<line x1="591.8" y1="132.80" x2="595.6" y2="132.80" stroke="#000" stroke-width="2"/>
<line x1="591.8" y1="74.20" x2="595.6" y2="74.20" stroke="#000" stroke-width="2"/>
<line x1="688.30" y1="396.2" x2="688.30" y2="389.9" stroke="#000" stroke-width="2"/>
<text x="688.30" y="421" text-anchor="middle" font-family="'Liberation Serif', serif" font-weight="bold" font-size="20.3">200</text>
<line x1="802.24" y1="396.2" x2="802.24" y2="389.9" stroke="#000" stroke-width="2"/>
<text x="802.24" y="421" text-anchor="middle" font-family="'Liberation Serif', serif" font-weight="bold" font-size="20.3">400</text>
<line x1="916.18" y1="396.2" x2="916.18" y2="389.9" stroke="#000" stroke-width="2"/>
<text x="916.18" y="421" text-anchor="middle" font-family="'Liberation Serif', serif" font-weight="bold" font-size="20.3">600</text>
<text x="1030.12" y="421" text-anchor="middle" font-family="'Liberation Serif', serif" font-weight="bold" font-size="20.3">800</text>
<line x1="631.33" y1="396.2" x2="631.33" y2="393" stroke="#000" stroke-width="2"/>
<line x1="745.27" y1="396.2" x2="745.27" y2="393" stroke="#000" stroke-width="2"/>
<line x1="859.21" y1="396.2" x2="859.21" y2="393" stroke="#000" stroke-width="2"/>
<line x1="973.15" y1="396.2" x2="973.15" y2="393" stroke="#000" stroke-width="2"/>
<text x="734.9" y="452.8" font-family="'Liberation Serif', serif" font-weight="bold" font-size="19.3" textLength="152" lengthAdjust="spacingAndGlyphs">Temperature (°C)</text>
<text transform="translate(545.6,219.2) rotate(-90)" text-anchor="middle" font-family="'Liberation Serif', serif" font-weight="bold" font-size="19.5" textLength="199.5" lengthAdjust="spacingAndGlyphs">Weight percentage (%)</text>
<text x="958.8" y="111.8" font-family="'Liberation Serif', serif" font-weight="bold" font-size="16">ZnFe<tspan font-size="11.68" dy="4.32">2</tspan><tspan dy="-4.32">O</tspan><tspan font-size="11.68" dy="4.32">4</tspan><tspan dy="-4.32"></tspan></text>
<text x="917.2" y="177.4" font-family="'Liberation Serif', serif" font-weight="bold" font-size="15">ZnFe<tspan font-size="10.95" dy="4.05">2</tspan><tspan dy="-4.05">O</tspan><tspan font-size="10.95" dy="4.05">4</tspan><tspan dy="-4.05">/rGO–1</tspan></text>
<text x="917.2" y="223.9" font-family="'Liberation Serif', serif" font-weight="bold" font-size="15">ZnFe<tspan font-size="10.95" dy="4.05">2</tspan><tspan dy="-4.05">O</tspan><tspan font-size="10.95" dy="4.05">4</tspan><tspan dy="-4.05">/rGO–2</tspan></text>
<text x="918.2" y="287.6" font-family="'Liberation Serif', serif" font-weight="bold" font-size="15">ZnFe<tspan font-size="10.95" dy="4.05">2</tspan><tspan dy="-4.05">O</tspan><tspan font-size="10.95" dy="4.05">4</tspan><tspan dy="-4.05">/rGO–3</tspan></text>
<text x="839.5" y="179.6" font-family="'Liberation Serif', serif" font-weight="bold" font-size="15.5" textLength="40" lengthAdjust="spacingAndGlyphs">71.9%</text>
<text x="839.5" y="225.9" font-family="'Liberation Serif', serif" font-weight="bold" font-size="15.5" textLength="40" lengthAdjust="spacingAndGlyphs">55.7%</text>
<text x="840.5" y="289" font-family="'Liberation Serif', serif" font-weight="bold" font-size="15.5" textLength="40" lengthAdjust="spacingAndGlyphs">34.1%</text>
</g>
</svg>
</body></html>
